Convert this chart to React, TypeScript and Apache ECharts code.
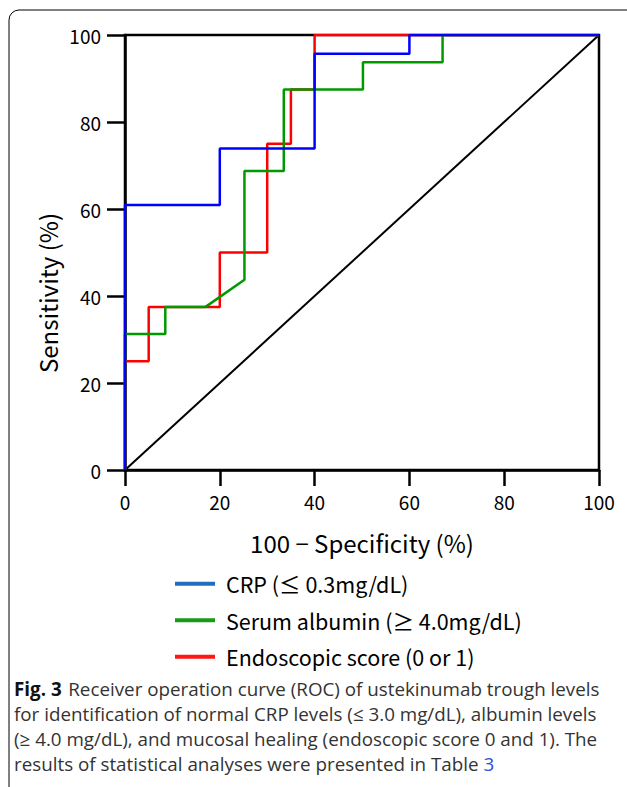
import React, { useEffect, useRef } from "react";
import * as echarts from "echarts";

const xTicks = [0, 20, 40, 60, 80, 100];
const yTicks = [0, 20, 40, 60, 80, 100];

const seriesNames = ["CRP (≤ 0.3mg/dL)", "Serum albumin (≥ 4.0mg/dL)", "Endoscopic score (0 or 1)"];

const crpCurve: [number, number][] = [
  [0, 0], [0, 60.9], [20, 60.9], [20, 73.9], [40, 73.9], [40, 95.7], [60, 95.7], [60, 100], [100, 100],
];
const albuminCurve: [number, number][] = [
  [0, 0], [0, 31.25], [8.5, 31.25], [8.5, 37.5], [17, 37.5], [25.2, 43.75], [25.2, 68.75], [33.5, 68.75],
  [33.5, 87.5], [50.2, 87.5], [50.2, 93.75], [67, 93.75], [67, 100], [100, 100],
];
const endoCurve: [number, number][] = [
  [0, 0], [0, 25], [5, 25], [5, 37.5], [20, 37.5], [20, 50], [30, 50], [30, 75], [35, 75], [35, 87.5],
  [40, 87.5], [40, 100], [100, 100],
];
const referenceLine: [number, number][] = [
  [0, 0], [100, 100],
];

const xTitle = "100 − Specificity (%)";
const yTitle = "Sensitivity (%)";

const captionLines = [
  "Receiver operation curve (ROC) of ustekinumab trough levels",
  "for identification of normal CRP levels (≤ 3.0 mg/dL), albumin levels",
  "(≥ 4.0 mg/dL), and mucosal healing (endoscopic score 0 and 1). The",
  "results of statistical analyses were presented in Table ",
];

const plotColors = ["#0000ff", "#009900", "#ff0000"];
const legendColors = ["#1f6fc0", "#199a19", "#ff1515"];

const FONT = "'Noto Sans CJK JP', 'Noto Sans', sans-serif";
const CAP_FONT = "'Open Sans', 'Noto Sans', sans-serif";
const CAP_SIZE = 18.8;

export default function App() {
  const ref = useRef<HTMLDivElement>(null);
  useEffect(() => {
    if (!ref.current) return;
    const chart = echarts.init(ref.current, null, { renderer: "svg" });
    const curves = [crpCurve, albuminCurve, endoCurve];
    const zs = [5, 4, 3];
    const option: any = {
      animation: false,
      backgroundColor: "#ffffff",
      grid: {
        left: 125, top: 35, right: 28, bottom: 317,
        show: true, borderColor: "#000", borderWidth: 2.5, backgroundColor: "transparent",
      },
      xAxis: {
        type: "value", min: 0, max: 100, interval: 20,
        name: xTitle, nameLocation: "middle", nameGap: 60,
        nameTextStyle: { fontSize: 24, color: "#000", fontFamily: FONT },
        axisLine: { show: true, lineStyle: { color: "#000", width: 2.5 } },
        axisTick: { show: true, length: 16, lineStyle: { color: "#000", width: 2.5 } },
        axisLabel: { fontSize: 19, color: "#000", fontFamily: FONT, margin: 22,
          formatter: (v: number) => (xTicks.includes(v) ? String(v) : "") },
        splitLine: { show: false },
      },
      yAxis: {
        type: "value", min: 0, max: 100, interval: 20,
        axisLine: { show: true, lineStyle: { color: "#000", width: 2.5 } },
        axisTick: { show: true, length: 18, lineStyle: { color: "#000", width: 2.5 } },
        axisLabel: { fontSize: 19, color: "#000", fontFamily: FONT, margin: 24,
          formatter: (v: number) => (yTicks.includes(v) ? String(v) : "") },
        splitLine: { show: false },
      },
      legend: {
        orient: "vertical", left: 170, top: 568,
        itemWidth: 40, itemHeight: 4, itemGap: 15, icon: "rect",
        textStyle: { fontSize: 21.5, color: "#000", fontFamily: FONT, padding: [0, 0, 0, 6] },
        data: seriesNames.map((n, i) => ({ name: n, itemStyle: { color: legendColors[i] } })),
      },
      series: [
        {
          type: "line", name: "reference", data: referenceLine, showSymbol: false, silent: true,
          lineStyle: { color: "#000", width: 2 }, z: 2,
        },
        ...curves.map((c, i) => ({
          type: "line", name: seriesNames[i], data: c, showSymbol: false, symbol: "none",
          color: plotColors[i],
          lineStyle: { color: plotColors[i], width: 2.5 }, z: zs[i],
        })),
      ],
      graphic: [
        {
          type: "rect", shape: { x: 9, y: 10, width: 700, height: 900, r: 10 },
          style: { fill: "none", stroke: "#000", lineWidth: 1 }, silent: true,
        },
        {
          type: "text", x: 47, y: 293, rotation: Math.PI / 2,
          style: { text: yTitle, fontSize: 24, fontFamily: FONT, fill: "#000", align: "center", verticalAlign: "middle" },
        },
        {
          type: "text", left: 14, top: 679,
          style: {
            text: "{b|Fig. 3}  {n|" + captionLines[0] + "}",
            rich: {
              b: { fontSize: CAP_SIZE, fontWeight: "bold", fontFamily: CAP_FONT, fill: "#111" },
              n: { fontSize: CAP_SIZE, fontFamily: CAP_FONT, fill: "#333" },
            },
          },
        },
        ...captionLines.slice(1).map((l, i) => ({
          type: "text", left: 14, top: 704 + i * 25,
          style: {
            text: i === 2 ? "{n|" + l + "}{l|3}" : "{n|" + l + "}",
            rich: {
              n: { fontSize: CAP_SIZE, fontFamily: CAP_FONT, fill: "#333" },
              l: { fontSize: CAP_SIZE, fontFamily: CAP_FONT, fill: "#2a4ee0" },
            },
          },
        })),
      ],
    };
    chart.setOption(option);
    return () => chart.dispose();
  }, []);
  return <div ref={ref} style={{ position: "fixed", left: 0, top: 0, width: 627, height: 787 }} />;
}
